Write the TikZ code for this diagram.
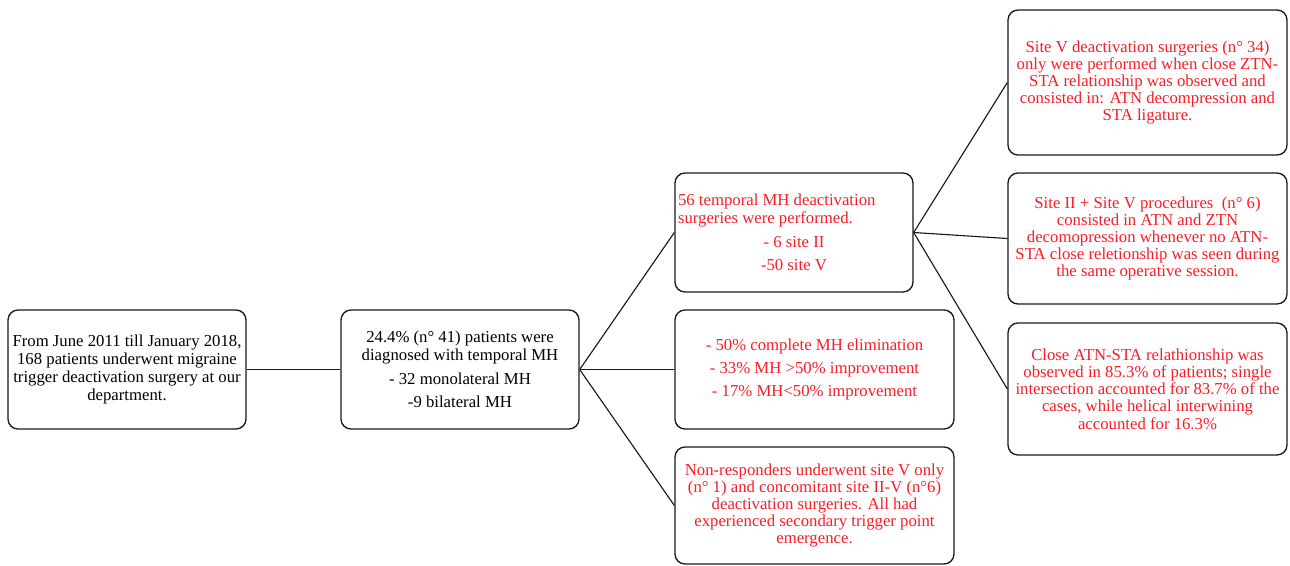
\documentclass[tikz,border=0pt]{standalone}
\usepackage{fontspec}
\setmainfont{Liberation Serif}
\definecolor{txtred}{RGB}{250,28,38}
\begin{document}
\begin{tikzpicture}[x=0.75pt,y=-0.75pt,
  box/.style={draw=black!90, rounded corners=7.5pt, line width=1pt, align=center,
    font=\fontsize{12.55}{13.4}\selectfont, inner sep=0pt, minimum width=178.5pt, minimum height=89.25pt},
  rbox/.style={box, text=txtred, minimum width=209.25pt, font=\fontsize{12.55}{12.9}\selectfont},
  conn/.style={draw=black!90, line width=0.85pt}]
\useasboundingbox (0,0) rectangle (1290,565);
\node[box] (a) at (127,369.5) {From June 2011 till January 2018,\\168 patients underwent migraine\\trigger deactivation surgery at our\\department.};
\node[box] (b) at (460,369.5) {24.4\% (n° 41) patients were\\diagnosed with temporal MH\\[4.2pt]- 32 monolateral MH\\[4.2pt]-9 bilateral MH};
\node[box, text=txtred, text width=174pt, inner xsep=2.25pt, align=none] (c) at (794,232.5) {{\raggedright 56 temporal MH deactivation\\surgeries were performed.\par}\vspace{4.2pt}{\centering - 6 site II\\[4.2pt]-50 site V\par}};
\node[rbox, minimum height=89.25pt, font=\fontsize{12.55}{13.4}\selectfont] (d) at (814.5,369.5) {- 50\% complete MH elimination\\[4.2pt]- 33\% MH >50\% improvement\\[4.2pt]- 17\% MH<50\% improvement};
\node[rbox, minimum height=87.75pt] (e) at (814.5,505.5) {Non-responders underwent site V only\\(n° 1) and concomitant site II-V (n°6)\\deactivation surgeries. All had\\experienced secondary trigger point\\emergence.};
\node[rbox, minimum height=108.75pt] (f) at (1147.5,82.5) {Site V deactivation surgeries (n° 34)\\only were performed when close ZTN-\\STA relationship was observed and\\consisted in: ATN decompression and\\STA ligature.};
\node[rbox, minimum height=98.25pt] (g) at (1147.5,238.5) {Site II + Site V procedures~ (n° 6)\\consisted in ATN and ZTN\\decomopression whenever no ATN-\\STA close reletionship was seen during\\the same operative session.};
\node[rbox, minimum height=99pt] (h) at (1147.5,389) {Close ATN-STA relathionship was\\observed in 85.3\% of patients; single\\intersection accounted for 83.7\% of the\\cases, while helical interwining\\accounted for 16.3\%};
\draw[conn] (a.east) -- (b.west);
\draw[conn] (b.east) -- (c.west);
\draw[conn] (b.east) -- (d.west);
\draw[conn] (b.east) -- (e.west);
\draw[conn] (c.east) -- (f.west);
\draw[conn] (c.east) -- (g.west);
\draw[conn] (c.east) -- (h.west);
\end{tikzpicture}
\end{document}
